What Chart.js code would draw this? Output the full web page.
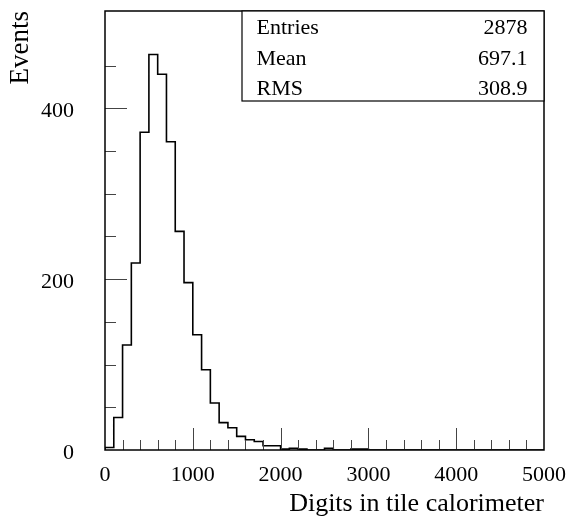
<!DOCTYPE html>
<html>

<head>
    <meta charset="utf-8">
    <title>Digits in tile calorimeter</title>
    <script src="https://cdn.jsdelivr.net/npm/chart.js@4.4.1/dist/chart.umd.min.js"></script>
    <style>
        html,
        body {
            margin: 0;
            padding: 0;
            background: #fff;
        }

        canvas {
            display: block;
        }
    </style>
</head>

<body>
<canvas id="histo" width="569" height="523"></canvas>
<script>
    // histogram: 50 bins of 100 digits, 0..5000
    var binWidth = 100
    var binCounts = [
        3, 38, 123, 219, 372, 463, 440, 361, 256, 196,
        135, 94, 55, 32, 26, 16, 12, 10, 5, 5,
        1, 2, 1, 0, 0, 2, 0, 0, 1, 1,
        0, 0, 0, 0, 0, 0, 0, 0, 0, 0,
        0, 0, 0, 0, 0, 0, 0, 0, 0, 0
    ]
    var statNames = ['Entries', 'Mean', 'RMS']
    var statValues = ['2878', '697.1', '308.9']
    var xTitle = 'Digits in tile calorimeter'
    var yTitle = 'Events'

    var serif = 'Liberation Serif'

    // stepped outline, one point per upper bin edge
    var points = [{x: 0, y: 0}]
    for (var i = 0; i < binCounts.length; i++) {
        points.push({x: (i + 1) * binWidth, y: binCounts[i]})
    }

    // ROOT style frame, inward ticks and stats box
    var rootFrame = {
        id: 'rootFrame',
        afterDatasetsDraw: function (chart) {
            var ctx = chart.ctx
            var a = chart.chartArea
            var xs = chart.scales.x
            var ys = chart.scales.y
            ctx.save()

            ctx.strokeStyle = '#444'
            ctx.lineWidth = 1
            ctx.beginPath()
            xs.ticks.forEach(function (t) {
                if (t.value % 200 !== 0 || t.value <= 0 || t.value >= 5000) return
                var px = Math.round(xs.getPixelForValue(t.value)) + 0.5
                var len = t.value % 1000 === 0 ? 22 : 10
                ctx.moveTo(px, a.bottom)
                ctx.lineTo(px, a.bottom - len)
            })
            ys.ticks.forEach(function (t) {
                if (t.value % 50 !== 0 || t.value <= 0) return
                var py = Math.round(ys.getPixelForValue(t.value)) + 0.5
                var len = t.value % 200 === 0 ? 22 : 11
                ctx.moveTo(a.left, py)
                ctx.lineTo(a.left + len, py)
            })
            ctx.stroke()

            // frame
            ctx.strokeStyle = '#000'
            ctx.lineWidth = 1.5
            ctx.strokeRect(a.left, a.top, a.right - a.left, a.bottom - a.top)

            // stats box
            var bx = a.right - 302
            var by = a.top
            ctx.fillStyle = '#fff'
            ctx.fillRect(bx, by, a.right - bx, 90)
            ctx.lineWidth = 1.2
            ctx.strokeRect(bx, by, a.right - bx, 90)
            ctx.fillStyle = '#000'
            ctx.font = '22px "' + serif + '"'
            ctx.textBaseline = 'alphabetic'
            for (var k = 0; k < statNames.length; k++) {
                var yy = by + 23 + k * 30.5
                ctx.textAlign = 'left'
                ctx.fillText(statNames[k], bx + 14.5, yy)
                ctx.textAlign = 'right'
                ctx.fillText(statValues[k], a.right - 16.5, yy)
            }
            ctx.restore()
        }
    }

    var options = {
        type: 'line',
        data: {
            datasets: [{
                label: 'Digits',
                data: points,
                stepped: 'after',
                borderColor: '#000',
                borderWidth: 1.6,
                pointRadius: 0,
                fill: false,
                tension: 0
            }]
        },
        options: {
            responsive: false,
            animation: false,
            layout: {
                padding: {top: 11, right: 25, left: 0, bottom: 0}
            },
            plugins: {
                legend: {display: false},
                tooltip: {enabled: false}
            },
            scales: {
                x: {
                    type: 'linear',
                    position: 'bottom',
                    min: 0,
                    max: 5000,
                    grid: {display: false, drawTicks: false},
                    border: {display: false},
                    ticks: {
                        stepSize: 200,
                        autoSkip: false,
                        maxRotation: 0,
                        padding: 12,
                        color: '#000',
                        font: {family: serif, size: 22},
                        callback: function (v) {
                            return v % 1000 === 0 ? v : ''
                        }
                    },
                    title: {
                        display: true,
                        text: xTitle,
                        align: 'end',
                        color: '#000',
                        font: {family: serif, size: 26},
                        padding: {top: 0, bottom: 3}
                    },
                    afterFit: function (scale) {
                        scale.height = 73
                        scale.paddingLeft = 0
                        scale.paddingRight = 0
                    }
                },
                y: {
                    min: 0,
                    max: 514,
                    grid: {display: false, drawTicks: false},
                    border: {display: false},
                    ticks: {
                        stepSize: 50,
                        autoSkip: false,
                        padding: 31,
                        labelOffset: 3,
                        color: '#000',
                        font: {family: serif, size: 22},
                        callback: function (v) {
                            return v % 200 === 0 ? v : ''
                        }
                    },
                    title: {
                        display: true,
                        text: yTitle,
                        align: 'end',
                        color: '#000',
                        font: {family: serif, size: 27},
                        padding: {top: 5, bottom: 0}
                    },
                    afterFit: function (scale) {
                        scale.width = 105
                        scale.paddingTop = 0
                        scale.paddingBottom = 0
                    }
                }
            }
        },
        plugins: [rootFrame]
    }

    var ctx = document.getElementById('histo').getContext('2d')
    window.histo = new Chart(ctx, options)
</script>
</body>

</html>
